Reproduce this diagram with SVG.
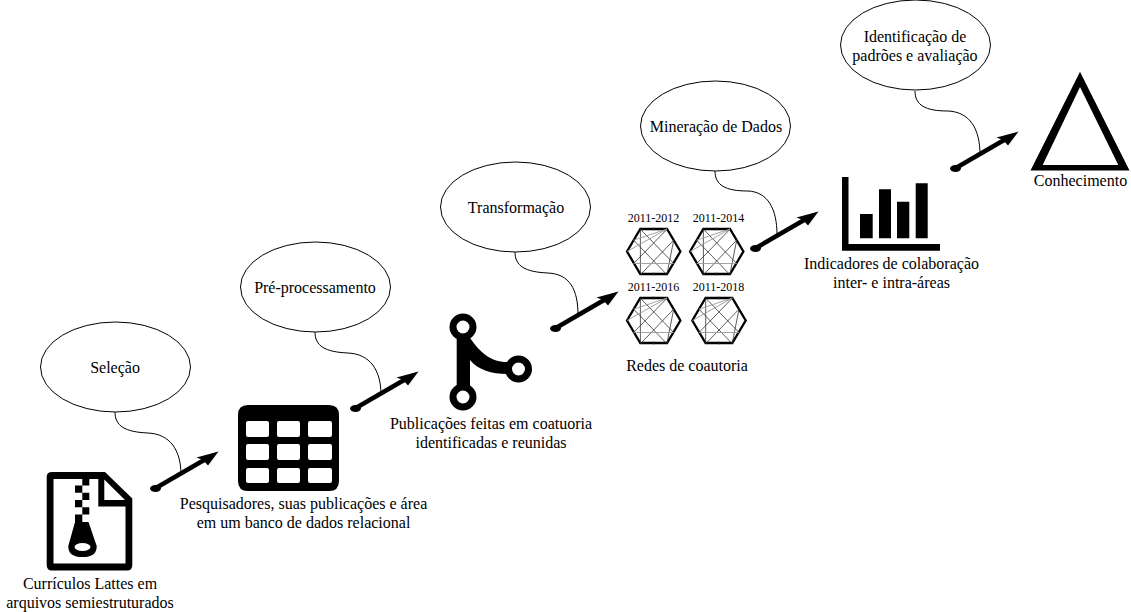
<svg xmlns="http://www.w3.org/2000/svg" xmlns:xlink="http://www.w3.org/1999/xlink" width="1131" height="612" viewBox="0 0 1131 612">
<style>
text{font-family:"Liberation Serif","Times New Roman",serif;font-size:16px;fill:#000;text-anchor:middle}
.s{font-size:12px}
.e{fill:#fff;stroke:#000;stroke-width:1}
.c{fill:none;stroke:#000;stroke-width:1}
.a{fill:none;stroke:#000;stroke-width:4.500}
.o{fill:none;stroke:#000;stroke-width:2.300}
.g1{stroke:#333;stroke-width:.8;fill:none}
.g2{stroke:#999;stroke-width:.9;fill:none}
</style>
<defs>
<path id="head" d="M0 0L-22 6L-15.500 8.600L-10.500 14Z" fill="#000"/>
<ellipse id="tail" rx="5.500" ry="3.500" fill="#000"/>
<g id="net">
<path class="o" d="M-26.700 0L-13.400-22.500H13.300L26.700 0L13.300 22.500H-13.400Z"/>
<path class="g1" d="M-13.300-22.500V22.500M-20-11.300L13.300 23.300M20-11.300L-13.300 23.300M-13.300-22.300L20 12M13.300-22.300L-20 12M13.300 22.500L20-11.300M0-24V-21M0 21V24"/>
<path class="g2" d="M-20-11.300L13.300-22.500M-26.700 0L13.300-22.500M-20 12H20"/>
</g>
</defs>
<g id="connectors">
<path class="c" d="M115 412C115 426 125 432 148 433C170 434 181 450 181 475"/>
<path class="c" d="M315 332C315 346 325 352 348 353C370 354 381 370 381 395"/>
<path class="c" d="M515 252C515 266 525 272 548 273C570 274 578 290 578 315"/>
<path class="c" d="M715 171C715 185 725 191 748 191C768 192 777 209 777 235"/>
<path class="c" d="M915 91C915 105 925 111 948 111C970 112 980 129 980 155"/>
<g id="arrow1"><path class="a" d="M155 488.500L205 459.500"/><use href="#tail" x="155.500" y="488.500"/><use href="#head" x="218.500" y="451.500"/></g>
<g id="arrow2"><path class="a" d="M355 408.500L405 379.500"/><use href="#tail" x="355.500" y="408.500"/><use href="#head" x="418.500" y="371.500"/></g>
<g id="arrow3"><path class="a" d="M555 328.500L605 299.500"/><use href="#tail" x="555.500" y="328.500"/><use href="#head" x="618.500" y="291.500"/></g>
<g id="arrow4"><path class="a" d="M755 248.500L805 219.500"/><use href="#tail" x="755.500" y="248.500"/><use href="#head" x="818.500" y="211.500"/></g>
<g id="arrow5"><path class="a" d="M955 168.500L1005 139.500"/><use href="#tail" x="955.500" y="168.500"/><use href="#head" x="1018.500" y="131.500"/></g>
</g>
<g id="selecao"><ellipse class="e" cx="115.500" cy="367" rx="75" ry="45"/><text x="115" y="373">Seleção</text></g>
<g id="preprocessamento"><ellipse class="e" cx="315.500" cy="287" rx="75" ry="45"/><text x="315" y="293">Pré-processamento</text></g>
<g id="transformacao"><ellipse class="e" cx="515.500" cy="207" rx="75" ry="45"/><text x="516" y="213">Transformação</text></g>
<g id="mineracao"><ellipse class="e" cx="715.500" cy="126" rx="75" ry="45"/><text x="716" y="132">Mineração de Dados</text></g>
<g id="identificacao"><ellipse class="e" cx="915.500" cy="45" rx="75" ry="45"/><text x="915" y="42">Identificação de</text><text x="915" y="61">padrões e avaliação</text></g>
<g id="curriculos">
<path d="M52 472H105L132.300 498.500V565Q132.300 570.500 127 570.500H52Q46.700 570.500 46.700 565V477Q46.700 472 52 472ZM53.500 479V563.500H125.500V506.500H98.300V479ZM104.300 479.500V500H125Z" fill="#000" fill-rule="evenodd"/>
<path d="M82.300 478H89.300V485.500H82.300ZM75 485.500H82.300V492.700H75ZM82.300 492.700H89.300V500H82.300ZM75 500H82.300V507.300H75ZM82.300 507.300H89.300V514.500H82.300ZM75 514.500H82.300V522H88.500L96.700 546Q97 557 82.500 557Q68 557 68.300 546L75 522Z" fill="#000"/>
<ellipse cx="82.500" cy="547" rx="8" ry="4" fill="#fff"/>
<text x="90" y="589">Currículos Lattes em</text><text x="90" y="608">arquivos semiestruturados</text>
</g>
<g id="banco">
<path d="M248 405H329Q339 405 339 415V481Q339 491 329 491H248Q238 491 238 481V415Q238 405 248 405ZM248 421Q246 421 246 423V435Q246 437 248 437H267Q269 437 269 435V423Q269 421 267 421ZM279 421Q277 421 277 423V435Q277 437 279 437H298Q300 437 300 435V423Q300 421 298 421ZM310 421Q308 421 308 423V435Q308 437 310 437H330Q332 437 332 435V423Q332 421 330 421ZM248 444Q246 444 246 446V458Q246 460 248 460H267Q269 460 269 458V446Q269 444 267 444ZM279 444Q277 444 277 446V458Q277 460 279 460H298Q300 460 300 458V446Q300 444 298 444ZM310 444Q308 444 308 446V458Q308 460 310 460H330Q332 460 332 458V446Q332 444 330 444ZM248 468Q246 468 246 470V481Q246 483 248 483H267Q269 483 269 481V470Q269 468 267 468ZM279 468Q277 468 277 470V481Q277 483 279 483H298Q300 483 300 481V470Q300 468 298 468ZM310 468Q308 468 308 470V481Q308 483 310 483H330Q332 483 332 481V470Q332 468 330 468Z" fill="#000" fill-rule="evenodd"/>
<text x="303.500" y="509">Pesquisadores, suas publicações e área</text><text x="303.500" y="528">em um banco de dados relacional</text>
</g>
<g id="publicacoes">
<path d="M456.700 330H470V338C480 352 490 362 507 362V374C492 374 478 370 470 360V395H456.700Z" fill="#000"/>
<circle cx="463" cy="327" r="10" fill="#fff" stroke="#000" stroke-width="7"/>
<circle cx="463" cy="397" r="10" fill="#fff" stroke="#000" stroke-width="7"/>
<circle cx="518.500" cy="369" r="10" fill="#fff" stroke="#000" stroke-width="7"/>
<text x="491" y="429">Publicações feitas em coatuoria</text><text x="491" y="448">identificadas e reunidas</text>
</g>
<g id="redes">
<text class="s" x="653.500" y="222">2011-2012</text><text class="s" x="718.500" y="222">2011-2014</text>
<use xlink:href="#net" href="#net" x="653.700" y="251.500"/><use xlink:href="#net" href="#net" x="716.700" y="251.500"/>
<text class="s" x="653.500" y="291">2011-2016</text><text class="s" x="718.500" y="291">2011-2018</text>
<use xlink:href="#net" href="#net" x="653.700" y="320.500"/><use xlink:href="#net" href="#net" x="719" y="320.500"/>
<text x="687" y="371">Redes de coautoria</text>
</g>
<g id="indicadores">
<path d="M842 177H848.500V244H940V250.700H842ZM860 214H872.700V238.300H860ZM879 189.300H891V238.300H879ZM897 201.700H909.300V238.300H897ZM915.700 183.300H927.700V238.300H915.700Z" fill="#000"/>
<text x="891.500" y="269">Indicadores de colaboração</text><text x="891.500" y="288">inter- e intra-áreas</text>
</g>
<g id="conhecimento">
<path d="M1080 71.700L1129.500 170.500H1030.500ZM1080 87L1042.700 165H1118.300Z" fill="#000" fill-rule="evenodd"/>
<text x="1080.500" y="186">Conhecimento</text>
</g>
</svg>
